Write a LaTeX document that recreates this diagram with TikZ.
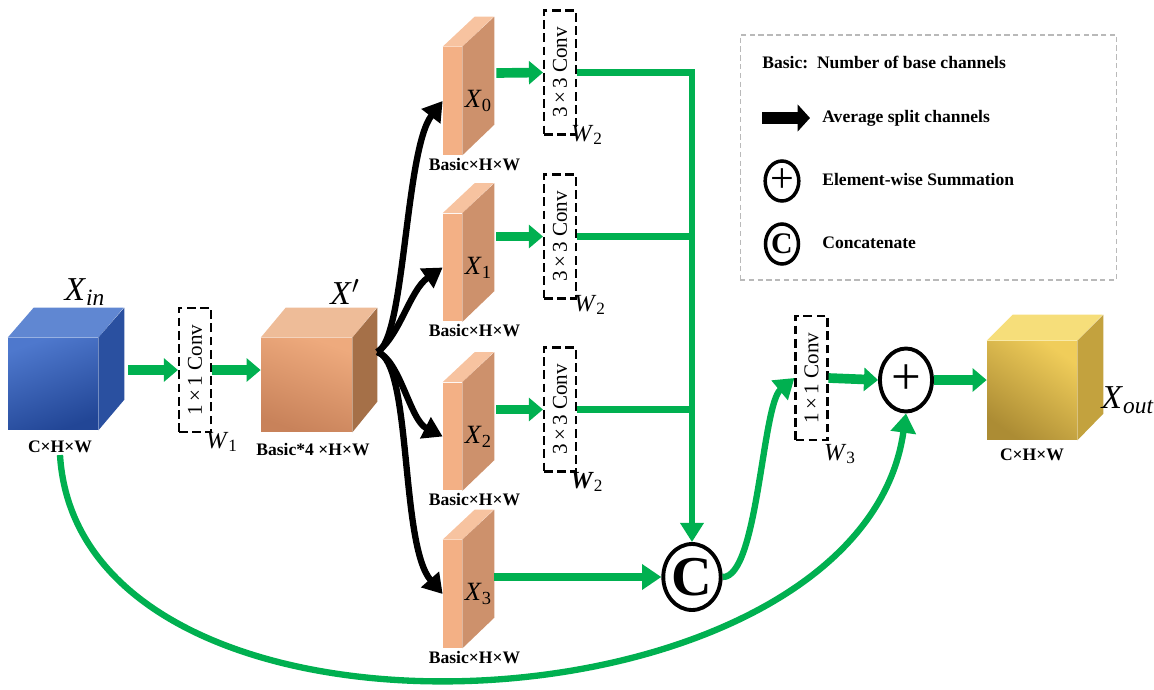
\documentclass[tikz,border=0pt]{standalone}
\usepackage{fontspec}
\setmainfont{Liberation Serif}
\usepackage{graphicx}
\usetikzlibrary{shapes.geometric,positioning,arrows.meta,calc}

\definecolor{flowgreen}{RGB}{0,176,80}
\definecolor{bluelight}{RGB}{78,120,205}
\definecolor{bluedark}{RGB}{34,70,150}
\definecolor{bluetop}{RGB}{96,135,210}
\definecolor{blueside}{RGB}{42,80,160}
\definecolor{orangelight}{RGB}{238,170,125}
\definecolor{orangedark}{RGB}{200,130,90}
\definecolor{orangetop}{RGB}{238,188,152}
\definecolor{orangeside}{RGB}{165,112,72}
\definecolor{slabfront}{RGB}{243,176,133}
\definecolor{slabside}{RGB}{205,145,108}
\definecolor{slabtop}{RGB}{247,195,160}
\definecolor{goldlight}{RGB}{240,205,90}
\definecolor{golddark}{RGB}{172,140,52}
\definecolor{goldtop}{RGB}{246,222,122}
\definecolor{goldside}{RGB}{195,162,62}

\begin{document}
\begin{tikzpicture}[x=0.02cm, y=-0.02cm,
    face/.style={rectangle, inner sep=0pt},
    slab/.style={rectangle, inner sep=0pt, minimum width=0.38cm, minimum height=2.16cm, fill=slabfront},
    convbox/.style={rectangle, draw, dash pattern=on 5pt off 2.5pt, line width=1.2pt, minimum width=0.64cm, minimum height=2.48cm, inner sep=0pt, font=\fontsize{12}{14}\selectfont},
    dimlabel/.style={font=\fontsize{10}{12}\selectfont\bfseries, inner sep=1pt},
    biglabel/.style={font=\fontsize{19}{22}\selectfont, inner sep=0pt},
    sublabel/.style={font=\fontsize{15}{17}\selectfont, inner sep=0pt},
    wlabel/.style={font=\fontsize{14}{16}\selectfont, inner sep=0pt},
    flow/.style={flowgreen, line width=5.5pt, -{Triangle[length=8pt,width=13pt]}},
    joinline/.style={flowgreen, line width=3.6pt},
    curveflow/.style={flowgreen, line width=3.6pt, -{Triangle[length=11pt,width=14pt]}},
    split/.style={black, line width=3.6pt, -{Triangle[length=11pt,width=13pt]}},
    opnode/.style={ellipse, draw, line width=2.2pt, inner sep=0pt},
    legendbox/.style={rectangle, draw=gray!55, dash pattern=on 3pt off 2pt, line width=0.6pt, minimum width=7.54cm, minimum height=4.9cm},
    legendtext/.style={anchor=west, font=\fontsize{10}{12}\selectfont\bfseries, inner sep=0pt},
]
\useasboundingbox (0,0) rectangle (1154,690);

% input cube
\node[face, minimum width=1.8cm, minimum height=1.84cm, top color=bluelight, bottom color=bluedark, shading angle=20] (xin) at (53,384) {};
\fill[bluetop] (xin.north west) -- ++(26,-30) -- ++(90,0) -- (xin.north east) -- cycle;
\fill[blueside] (xin.north east) -- ++(26,-30) -- ++(0,92) -- (xin.south east) -- cycle;
\node[biglabel] (xinlabel) at (85,292) {\textit{X}\textsubscript{\textit{in}}};
\node[dimlabel] (xindim) at (60,447) {C×H×W};

% first 1x1 conv
\node[convbox] (conva) at (195,370) {\rotatebox{90}{1\,×\,1 Conv}};
\node[wlabel] (w1) at (222,442) {\textit{W}\textsubscript{1}};
\draw[flow] ($(xin.east |- conva)+(30,0)$) -- (conva.west);

% X' cube
\node[face, minimum width=1.82cm, minimum height=1.88cm, left color=orangelight, right color=orangedark, shading angle=-20] (xp) at (306.5,385) {};
\fill[orangetop] (xp.north west) -- ++(25,-30) -- ++(91,0) -- (xp.north east) -- cycle;
\fill[orangeside] (xp.north east) -- ++(25,-30) -- ++(0,94) -- (xp.south east) -- cycle;
\node[biglabel] (xplabel) at (345,292) {\textit{X}$'$};
\node[dimlabel] (xpdim) at (313,450) {Basic*4 ×H×W};
\draw[flow] (conva.east) -- (conva.east -| xp.west);
\coordinate (fan) at ($(xp.east)+(25,-33)$);

% split slabs
\foreach \i/\y in {0/101,1/267.5,2/436.5,3/594}{
  \node[slab] (s\i) at (452.5,\y) {};
  \fill[slabtop] (s\i.north west) -- ++(32,-30) -- ++(19,0) -- (s\i.north east) -- cycle;
  \fill[slabside] (s\i.north east) -- ++(32,-30) -- ++(0,108) -- (s\i.south east) -- cycle;
  \node[sublabel] (x\i) at ($(s\i.east)+(16,0)$) {\textit{X}\textsubscript{\i}};
  \node[dimlabel] (d\i) at ($(s\i.south)+(22,9)$) {Basic×H×W};
}

% black split arrows
\draw[split] (fan) .. controls (405,340) and (405,150) .. (s0.west);
\draw[split] (fan) .. controls (400,335) and (410,290) .. (s1.west);
\draw[split] (fan) .. controls (400,360) and (410,420) .. (s2.west);
\draw[split] (fan) .. controls (412,362) and (400,545) .. (s3.west);

% 3x3 convs
\node[convbox] (c0) at (560,72.5) {\rotatebox{90}{3\,×\,3 Conv}};
\node[convbox] (c1) at (560,236.5) {\rotatebox{90}{3\,×\,3 Conv}};
\node[convbox] (c2) at (560,409.5) {\rotatebox{90}{3\,×\,3 Conv}};
\node[wlabel] (w20) at (587,135) {\textit{W}\textsubscript{2}};
\node[wlabel] (w21) at (590,305) {\textit{W}\textsubscript{2}};
\node[wlabel] (w22) at (587,482) {\textit{\textbf{W}}\textsubscript{2}};
\draw[flow] ($(s0.east)+(34,-28)$) coordinate (f0) -- (c0.west);
\draw[flow] (f0 |- c1) -- (c1.west);
\draw[flow] (f0 |- c2) -- (c2.west);

% concatenation
\node[opnode, minimum width=1.08cm, minimum height=1.32cm, font=\fontsize{32}{34}\selectfont\bfseries] (cat) at (692,577) {C};
\draw[joinline, -{Triangle[length=11pt,width=13pt]}] (c0.east) -| (cat.north);
\draw[joinline] (c1.east) -- (c1.east -| cat.north);
\draw[joinline] (c2.east) -- (c2.east -| cat.north);
\draw[joinline, line width=4.2pt, -{Triangle[length=11pt,width=14pt]}] ($(s3.east)+(32,-17)$) -- (cat.west);

% 1x1 conv, sum and output
\node[convbox] (convb) at (811.5,378) {\rotatebox{90}{1\,×\,1 Conv}};
\node[wlabel] (w3) at (840,454) {\textit{W}\textsubscript{3}};
\draw[curveflow] (cat.east) .. controls (758,578) and (762,405) .. (convb.west);
\node[opnode, minimum width=1.04cm, minimum height=1.26cm, font=\fontsize{30}{32}\selectfont] (sum) at (906,380) {+};
\draw[flow] (convb.east) -- (sum.west);

\node[face, minimum width=1.8cm, minimum height=1.98cm, left color=golddark, right color=goldlight, shading angle=145] (xout) at (1032,390.5) {};
\fill[goldtop] (xout.north west) -- ++(26,-26) -- ++(90,0) -- (xout.north east) -- cycle;
\fill[goldside] (xout.north east) -- ++(26,-26) -- ++(0,99) -- (xout.south east) -- cycle;
\node[biglabel] (xoutlabel) at (1128,400) {\textit{X}\textsubscript{\textit{out}}};
\node[dimlabel] (xoutdim) at (1032,455) {C×H×W};
\draw[flow] (sum.east) -- (sum.east -| xout.west);

% residual path
\draw[curveflow] (xindim.south) .. controls (80,780) and (860,740) .. (sum.south);

% legend
\node[legendbox] (legend) at (928.5,157.5) {};
\node[legendtext] (lbasic) at (762,62) {Basic:\ \ Number of base channels};
\coordinate (iconstart) at (762,118);
\coordinate (iconend) at (810,118);
\draw[black, line width=7pt, -{Triangle[length=7pt,width=15pt]}] (iconstart) -- (iconend);
\node[legendtext] (lsplit) at (822,118) {Average split channels};
\node[opnode, line width=2pt, minimum width=0.66cm, minimum height=0.8cm, font=\fontsize{24}{26}\selectfont] (lsum) at (782,181) {+};
\node[legendtext] (lsumtext) at (822,180) {Element-wise Summation};
\node[opnode, line width=2pt, minimum width=0.66cm, minimum height=0.8cm, font=\fontsize{17}{19}\selectfont\bfseries] (lcat) at (782,244) {C};
\node[legendtext] (lcattext) at (822,243) {Concatenate};

\end{tikzpicture}
\end{document}
